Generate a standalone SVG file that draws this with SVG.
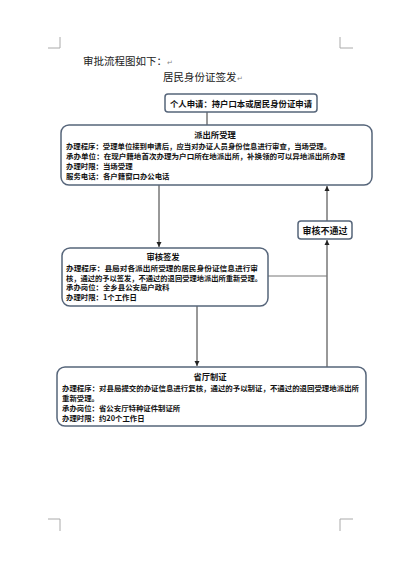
<svg xmlns="http://www.w3.org/2000/svg" width="400" height="566" viewBox="0 0 400 566">
<defs>
<style>
text{font-family:"Noto Sans CJK SC","Liberation Sans",sans-serif;fill:#111}
.box{fill:#fff;stroke:#56657a;stroke-width:1.5}
.t{font-size:7.4px;font-weight:bold}
.h{font-size:8.3px;font-weight:bold;text-anchor:middle}
.top{font-size:10.5px;fill:#222}
.pm{font-size:7px;fill:#888}
.conn{stroke:#333;stroke-width:1;fill:none}
.corner{stroke:#aaa;stroke-width:1;fill:none}
</style>
<marker id="arr" markerWidth="6" markerHeight="6" refX="5" refY="3" orient="auto" markerUnits="userSpaceOnUse">
<path d="M0,0.5 L5,3 L0,5.5 Z" fill="#222"/>
</marker>
</defs>
<rect width="400" height="566" fill="#fff"/>
<g id="page-corners">
<path class="corner" d="M48,48 H60 V37"/>
<path class="corner" d="M353,48 H340 V37"/>
<path class="corner" d="M48,519 H60 V531"/>
<path class="corner" d="M353,519 H340 V531"/>
</g>
<g id="heading">
<text class="top" x="83" y="65">审批流程图如下：<tspan class="pm">↵</tspan></text>
<text class="top" x="163" y="81">居民身份证签发<tspan class="pm">↵</tspan></text>
</g>
<g id="connectors">
<line class="conn" x1="207" y1="112" x2="207" y2="125"/>
<line class="conn" x1="159" y1="185" x2="159" y2="247" marker-end="url(#arr)"/>
<line class="conn" x1="197" y1="306" x2="197" y2="366" marker-end="url(#arr)"/>
<line class="conn" x1="327" y1="221" x2="327" y2="186" marker-end="url(#arr)"/>
<line class="conn" x1="327" y1="367" x2="327" y2="240" marker-end="url(#arr)"/>
<line x1="268" y1="276" x2="327" y2="276" stroke="#777" stroke-width="1"/>
</g>
<g id="apply">
<rect class="box" x="165" y="94" width="152" height="18" rx="3"/>
<text x="170" y="106.5" font-size="8.3" font-weight="bold" textLength="142" lengthAdjust="spacingAndGlyphs">个人申请：持户口本或居民身份证申请</text>
</g>
<g id="police-station">
<rect class="box" x="61" y="125" width="311" height="60" rx="8"/>
<text class="h" x="215" y="137.5">派出所受理</text>
<text class="t" x="66" y="149" textLength="265" lengthAdjust="spacingAndGlyphs">办理程序：受理单位接到申请后，应当对办证人员身份信息进行审查，当场受理。</text>
<text class="t" x="66" y="159" textLength="279" lengthAdjust="spacingAndGlyphs">承办单位：在现户籍地首次办理为户口所在地派出所，补换领的可以异地派出所办理</text>
<text class="t" x="66" y="169">办理时限：当场受理</text>
<text class="t" x="66" y="179">服务电话：各户籍窗口办公电话</text>
</g>
<g id="reject">
<rect class="box" x="298" y="221" width="54" height="18" rx="3"/>
<text x="325" y="233.5" font-size="9" font-weight="bold" text-anchor="middle">审核不通过</text>
</g>
<g id="county-review">
<rect class="box" x="62" y="248" width="206" height="58" rx="8"/>
<text class="h" x="163" y="259.5">审核签发</text>
<text class="t" x="66" y="270.5" textLength="192" lengthAdjust="spacingAndGlyphs">办理程序：县局对各派出所受理的居民身份证信息进行审</text>
<text class="t" x="66" y="280.5" textLength="196" lengthAdjust="spacingAndGlyphs">核，通过的予以签发，不通过的退回受理地派出所重新受理。</text>
<text class="t" x="66" y="290">承办岗位：全乡县公安局户政科</text>
<text class="t" x="66" y="300">办理时限：1个工作日</text>
</g>
<g id="province">
<rect class="box" x="57" y="367" width="309" height="59" rx="8"/>
<text class="h" x="210" y="379.5">省厅制证</text>
<text class="t" x="62" y="391" textLength="297" lengthAdjust="spacingAndGlyphs">办理程序：对县局提交的办证信息进行复核，通过的予以制证，不通过的退回受理地派出所</text>
<text class="t" x="62" y="400.5">重新受理。</text>
<text class="t" x="62" y="411">承办岗位：省公安厅特种证件制证所</text>
<text class="t" x="62" y="421">办理时限：约20个工作日</text>
</g>
</svg>
